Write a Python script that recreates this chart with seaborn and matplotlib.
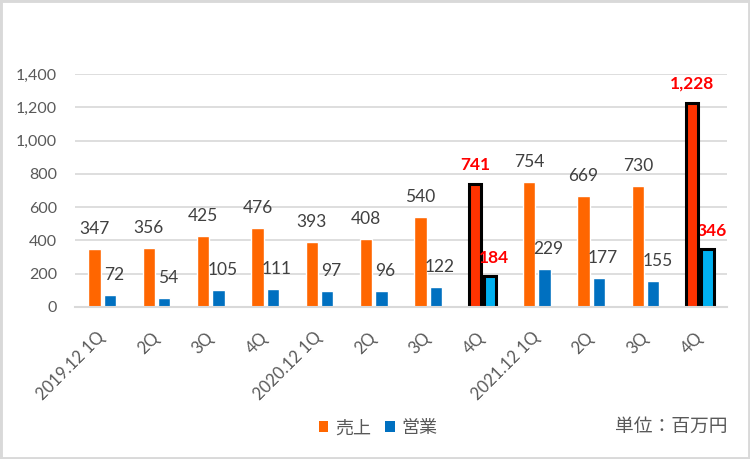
import matplotlib
matplotlib.use('Agg')
import matplotlib.pyplot as plt
import seaborn as sns
import pandas as pd
from matplotlib.patches import Rectangle

# ---- data ----
periods = ['2019Q1', '2019Q2', '2019Q3', '2019Q4',
           '2020Q1', '2020Q2', '2020Q3', '2020Q4',
           '2021Q1', '2021Q2', '2021Q3', '2021Q4']
tick_labels = ['2019.12 1Q', '2Q', '3Q', '4Q',
               '2020.12 1Q', '2Q', '3Q', '4Q',
               '2021.12 1Q', '2Q', '3Q', '4Q']
sales = [347, 356, 425, 476, 393, 408, 540, 741, 754, 669, 730, 1228]
operating = [72, 54, 105, 111, 97, 96, 122, 184, 229, 177, 155, 346]
series_names = ['売上', '営業']
highlight = [7, 11]
unit_text = '単位：百万円'

# ---- style ----
sns.set_theme(style='white')
plt.rcParams['font.family'] = ['Lato', 'Noto Sans CJK JP', 'DejaVu Sans']

colors = {'売上': '#FF6600', '営業': '#0070C0'}
hl_colors = {'売上': '#FF3300', '営業': '#00B0F0'}
label_gray = '#404040'
axis_gray = '#595959'
grid_gray = '#D9D9D9'

df = pd.DataFrame({
    'period': periods * 2,
    'series': [series_names[0]] * len(periods) + [series_names[1]] * len(periods),
    'value': sales + operating,
})

fig = plt.figure(figsize=(7.5, 4.59), dpi=100)
ax = fig.add_axes([75 / 750, 1 - 307 / 459, 652 / 750, (307 - 74) / 459])

sns.barplot(data=df, x='period', y='value', hue='series', order=periods,
            hue_order=series_names, palette=colors, width=0.56, gap=0.19,
            saturation=1, errorbar=None, legend=False, ax=ax)

ax.set_ylim(0, 1400)
ax.set_yticks(range(0, 1401, 200))
ax.set_yticklabels([f'{v:,}' for v in range(0, 1401, 200)])
ax.set_xticks(range(len(periods)))
ax.set_xticklabels(tick_labels, rotation=45, ha='right', va='center',
                   rotation_mode='anchor')
ax.tick_params(axis='x', length=0, pad=20, labelsize=12, colors=axis_gray)
ax.tick_params(axis='y', length=0, pad=13, labelsize=11.5, colors=axis_gray)
ax.set_xlabel('')
ax.set_ylabel('')

ax.set_axisbelow(True)
ax.yaxis.grid(True, color=grid_gray, lw=1.25)
for s in ['top', 'right', 'left']:
    ax.spines[s].set_visible(False)
ax.spines['bottom'].set_color(grid_gray)
ax.spines['bottom'].set_linewidth(1.5)

# ---- highlight & labels ----
for h, name in enumerate(series_names):
    cont = ax.containers[h]
    vals = sales if h == 0 else operating
    dx = 0 if h == 0 else 3
    for i, bar in enumerate(cont):
        x = bar.get_x() + bar.get_width() / 2
        y = bar.get_height()
        if i in highlight:
            bar.set_facecolor(hl_colors[name])
            bar.set_edgecolor('black')
            bar.set_linewidth(2.2)
            ax.annotate(f'{vals[i]:,}', (x, y), xytext=(dx, 13.5),
                        textcoords='offset points', ha='center', va='center',
                        fontsize=12.5, fontweight='bold', color='#FF0000',
                        zorder=0.8 if (h == 1 and i == 11) else 3)
        else:
            ax.annotate(f'{vals[i]:,}', (x, y), xytext=(dx, 14.4),
                        textcoords='offset points', ha='center', va='center',
                        fontsize=12.5, color=label_gray, zorder=3)

# ---- legend ----
handles = [Rectangle((0, 0), 1, 1, facecolor=colors[n], edgecolor='none')
           for n in series_names]
fig.legend(handles, series_names, loc='center', bbox_to_anchor=(378 / 750, 1 - 428 / 459),
           ncol=2, frameon=False, fontsize=13, labelcolor=axis_gray,
           handlelength=0.55, handleheight=0.55, handletextpad=0.35,
           columnspacing=0.8)

fig.text(727 / 750, 1 - 426 / 459, unit_text, ha='right', va='center',
         fontsize=13.5, color=axis_gray)

# figure border
fig.add_artist(Rectangle((0, 0), 1, 1, transform=fig.transFigure, fill=False,
                         edgecolor=grid_gray, lw=3.5))

fig.savefig('out.png', dpi=100)
